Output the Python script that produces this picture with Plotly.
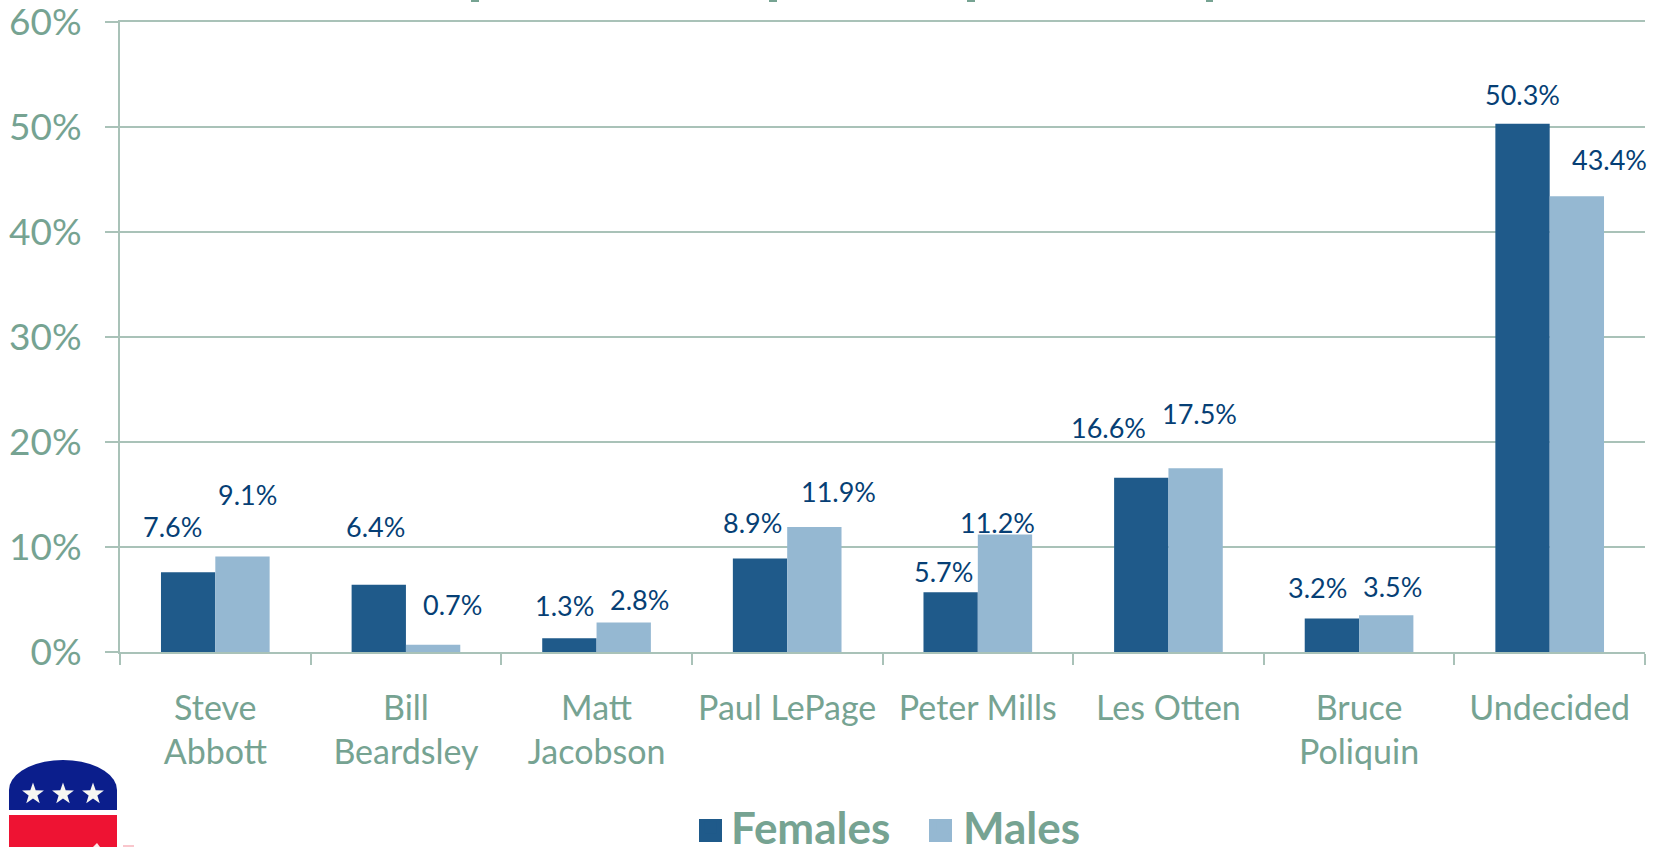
import math
import plotly.graph_objects as go

categories = ["Steve<br>Abbott", "Bill<br>Beardsley", "Matt<br>Jacobson", "Paul LePage", "Peter Mills",
              "Les Otten", "Bruce<br>Poliquin", "Undecided"]
females = [7.6, 6.4, 1.3, 8.9, 5.7, 16.6, 3.2, 50.3]
males = [9.1, 0.7, 2.8, 11.9, 11.2, 17.5, 3.5, 43.4]
female_labels = ["7.6%", "6.4%", "1.3%", "8.9%", "5.7%", "16.6%", "3.2%", "50.3%"]
male_labels = ["9.1%", "0.7%", "2.8%", "11.9%", "11.2%", "17.5%", "3.5%", "43.4%"]
y_ticks = [0, 10, 20, 30, 40, 50, 60]
y_labels = ["0%", "10%", "20%", "30%", "40%", "50%", "60%"]

W, H = 1653, 847
L, R, T, B = 120, 1645, 22, 652
GREEN = "#76A392"
LINE = "#A9C2B8"
NAVY = "#063F75"
FONT = "Lato"

# label offsets from the category centre / bar top
f_dx = [-41, -29, -30, -33, -33, -57, -39, -26]
f_dy = [43, 55, 31, 34, 20, 48, 29, 28]
m_dx = [31, 44, 41, 49, 19, 29, 32, 57]
m_dy = [59, 38, 22, 34, 11, 52, 27, 35]
K = 1.054

def px(x):
    return (x - L) / (R - L)

def py(y):
    return (B - y) / (B - T)

fig = go.Figure()
fig.add_bar(name="Females", x=categories, y=females, marker=dict(color="#1F5A8A", line_width=0))
fig.add_bar(name="Males", x=categories, y=males, marker=dict(color="#95B8D2", line_width=0))

for i, c in enumerate(categories):
    fig.add_annotation(x=c, y=females[i], text=female_labels[i], showarrow=False, yanchor="middle",
                       xshift=f_dx[i] * K, yshift=f_dy[i] * K, font=dict(family=FONT, size=27, color=NAVY))
    fig.add_annotation(x=c, y=males[i], text=male_labels[i], showarrow=False, yanchor="middle",
                       xshift=m_dx[i] * K, yshift=m_dy[i] * K, font=dict(family=FONT, size=27, color=NAVY))

fig.update_layout(
    width=W, height=H, autosize=False, barmode="group", bargap=0.43, bargroupgap=0,
    margin=dict(l=L, r=W - R, t=T, b=H - B, pad=0),
    plot_bgcolor="white", paper_bgcolor="white",
    font=dict(family=FONT, color=GREEN),
    showlegend=True,
    legend=dict(orientation="h", xref="container", yref="container", x=0.418, xanchor="left",
                y=0.023, yanchor="middle", entrywidth=187, entrywidthmode="pixels",
                bgcolor="rgba(0,0,0,0)",
                font=dict(family=FONT, size=44, color=GREEN, weight="bold"), traceorder="normal"),
    xaxis=dict(range=[-0.5, 7.5], showline=True, mirror=True, linecolor=LINE, linewidth=2, ticks="outside",
               ticklen=11, tickcolor=LINE,
               tickwidth=2, tickson="boundaries", showgrid=False, ticklabelstandoff=25,
               tickfont=dict(family=FONT, size=34, color=GREEN), automargin=False),
    yaxis=dict(range=[0, 60], tickvals=y_ticks, ticktext=y_labels, showline=True, linecolor=LINE, linewidth=2,
               ticks="outside", ticklen=13, tickcolor=LINE, tickwidth=2, gridcolor=LINE, gridwidth=2,
               zeroline=False, ticklabelstandoff=16, ticklabeloverflow="allow",
               tickfont=dict(family=FONT, size=37, color=GREEN), automargin=False),
)

def rect(x0, y0, x1, y1, color):
    fig.add_shape(type="rect", xref="paper", yref="paper", x0=px(x0), x1=px(x1), y0=py(y1), y1=py(y0),
                  fillcolor=color, line_width=0)

# legend squares under the library's small swatches
rect(699, 819, 722, 842, "#1F5A8A")
rect(929, 819, 952, 842, "#95B8D2")

# descenders of the cropped title at the top edge
for a, b in [(471, 479), (769, 777), (967, 975), (1206, 1213)]:
    rect(a, 0, b, 2, GREEN)

# party logo, cut off by the bottom of the page
pts = [(9, 810), (9, 790)]
for k in range(0, 19):
    t = math.pi * (1 - k / 18)
    pts.append((63 + 54 * math.cos(t), 790 + 30 * -math.sin(t)))
pts += [(117, 810)]
path = "M " + " L ".join(f"{px(a):.5f} {py(b):.5f}" for a, b in pts) + " Z"
fig.add_shape(type="path", xref="paper", yref="paper", path=path, fillcolor="#0B1E8C", line_width=0)
rect(9, 815, 117, 847, "#EE1333")
rect(123, 845, 134, 847, "#F9C6CC")
for cx in (33, 63, 93):
    star = []
    for k in range(10):
        r = 11.5 if k % 2 == 0 else 4.6
        t = math.pi / 2 + k * math.pi / 5
        star.append((cx + r * math.cos(t), 794 - r * math.sin(t)))
    p = "M " + " L ".join(f"{px(a):.5f} {py(b):.5f}" for a, b in star) + " Z"
    fig.add_shape(type="path", xref="paper", yref="paper", path=p, fillcolor="#F7F7F2", line_width=0)
tri = [(93, 847), (97, 843), (100, 847)]
fig.add_shape(type="path", xref="paper", yref="paper", fillcolor="#FBE9E9", line_width=0,
              path="M " + " L ".join(f"{px(a):.5f} {py(b):.5f}" for a, b in tri) + " Z")

fig.write_html("out.html", config={"displayModeBar": False},
               post_script="document.body.style.margin='0';document.body.style.overflow='hidden';")
